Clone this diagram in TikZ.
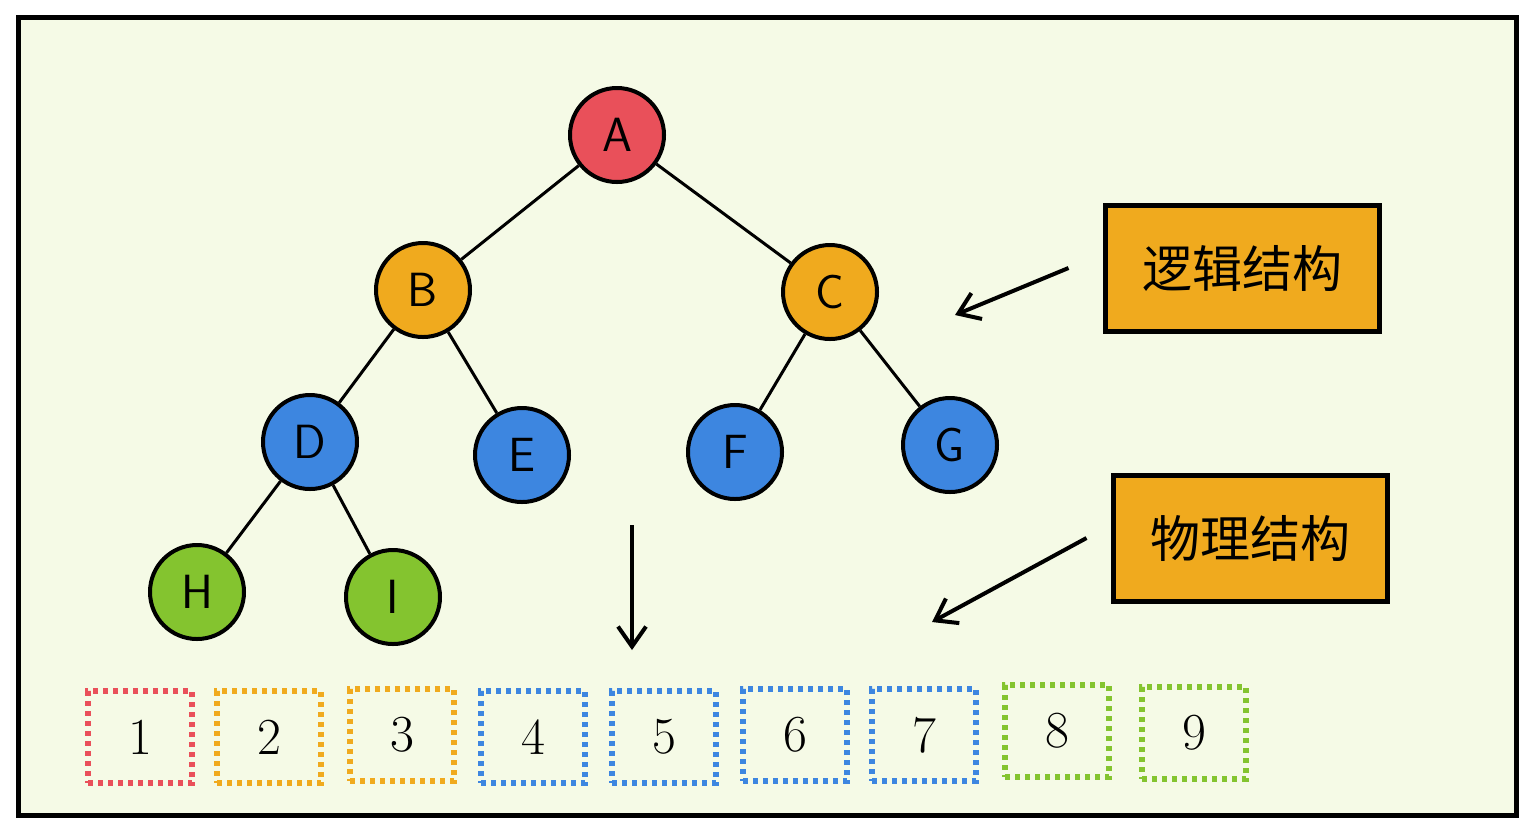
\documentclass[tikz,border=0pt]{standalone}
\usepackage{fontspec}
\newfontfamily\cjk{Noto Sans CJK SC}
\usetikzlibrary{positioning,arrows.meta}
\definecolor{bgc}{HTML}{F5FAE6}
\definecolor{redc}{HTML}{E9505A}
\definecolor{orgc}{HTML}{F0AA1E}
\definecolor{bluc}{HTML}{3D86E0}
\definecolor{grnc}{HTML}{84C42F}
\tikzset{
	tnode/.style={circle,draw=black,line width=2pt,minimum size=47pt,inner sep=0pt,font=\sffamily\fontsize{24}{28}\selectfont},
	label box/.style={draw=black,line width=2.5pt,fill=orgc,minimum width=137pt,minimum height=63pt,font=\cjk\fontsize{25}{30}\selectfont},
	cell/.style={draw=#1,line width=3pt,dash pattern=on 2.5pt off 2.5pt,minimum width=52pt,minimum height=46pt,font=\fontsize{26}{30}\selectfont},
	hand arrow/.style={-{Straight Barb[length=10pt,width=14pt,line width=2pt]},line width=2pt},
}
\begin{document}
\begin{tikzpicture}[x=0.5pt,y=-0.5pt]
	\useasboundingbox (0,0) rectangle (1534,827);
	\draw[line width=2.5pt,fill=bgc] (18,17) rectangle (1516,815);
	% logical structure
	\node[tnode,fill=redc] (a) at (617,135) {A};
	\node[tnode,fill=orgc] (b) at (423,290) {B};
	\node[tnode,fill=orgc] (c) at (830,292) {C};
	\node[tnode,fill=bluc] (d) at (310,442) {D};
	\node[tnode,fill=bluc] (e) at (522,455) {E};
	\node[tnode,fill=bluc] (f) at (735,452) {F};
	\node[tnode,fill=bluc] (g) at (950,445) {G};
	\node[tnode,fill=grnc] (h) at (197,592) {H};
	\node[tnode,fill=grnc] (i) at (393,597) {I};
	\path[draw,line width=1.5pt]
		(a) edge (b) edge (c)
		(b) edge (d) edge (e)
		(c) edge (f) edge (g)
		(d) edge (h) edge (i)
	;
	\node[label box] (logic) at (1242,268) {逻辑结构};
	\node[label box] (phys) at (1250,538) {物理结构};
	\coordinate (logic tip) at (955,315);
	\coordinate (phys tip) at (932,622);
	\coordinate (down start) at (632,525);
	\coordinate (down tip) at (632,650);
	\draw[hand arrow] ([xshift=-17pt]logic.west) -- (logic tip);
	\draw[hand arrow] ([xshift=-12pt]phys.west) -- (phys tip);
	\draw[hand arrow] (down start) -- (down tip);
	% physical structure
	\node[cell=redc] (n1) at (140,737) {1};
	\node[cell=orgc] (n2) at (269,737) {2};
	\node[cell=orgc] (n3) at (402,735) {3};
	\node[cell=bluc] (n4) at (533,737) {4};
	\node[cell=bluc] (n5) at (664,737) {5};
	\node[cell=bluc] (n6) at (795,735) {6};
	\node[cell=bluc] (n7) at (924,735) {7};
	\node[cell=grnc] (n8) at (1057,731) {8};
	\node[cell=grnc] (n9) at (1194,733) {9};
\end{tikzpicture}
\end{document}
